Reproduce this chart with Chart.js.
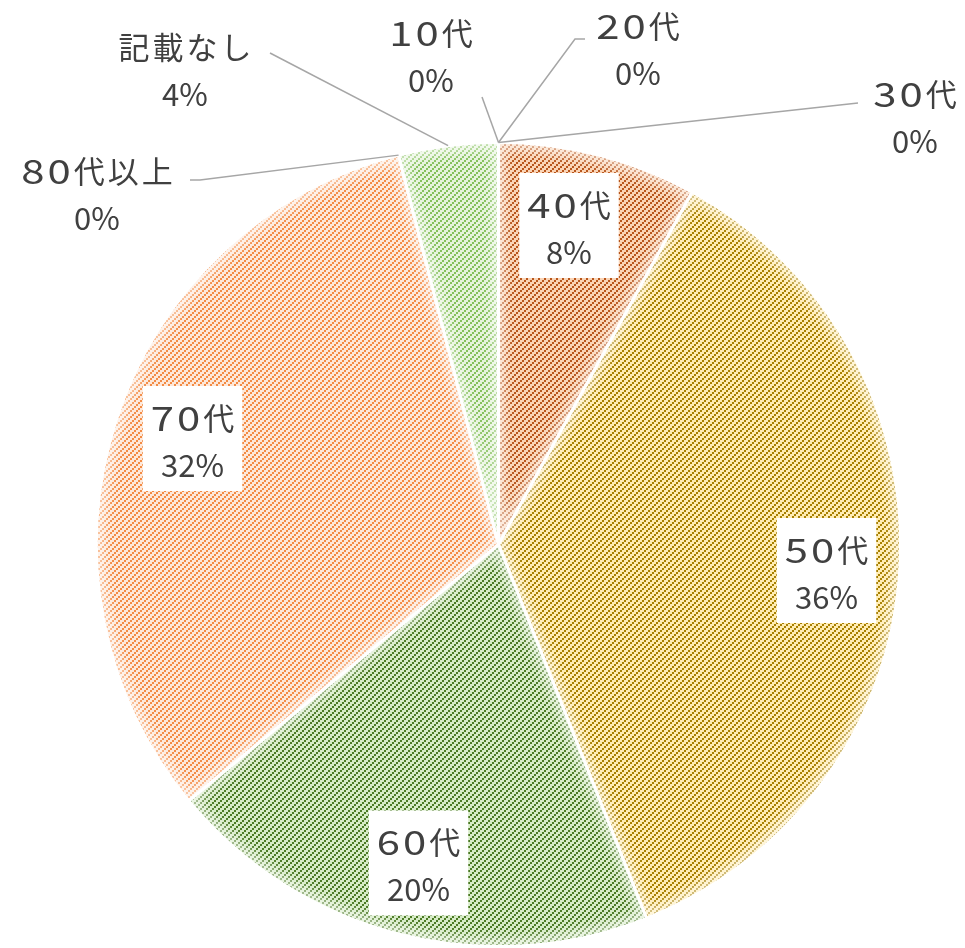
<!DOCTYPE html>
<html><head><meta charset="utf-8">
<script src="https://cdn.jsdelivr.net/npm/chart.js@4"></script>
<style>html,body{margin:0;padding:0;background:#fff;overflow:hidden}#wrap{width:965px;height:948px;position:relative}</style>
</head><body><div id="wrap"><canvas id="c" width="965" height="948"></canvas></div>
<script>
// ---- data ----
const categories = ['10代','20代','30代','40代','50代','60代','70代','80代以上','記載なし'];
const counts = [0, 0, 0, 2, 9, 5, 8, 0, 1];
const fgColors = ['#7fbf55','#b8561c','#b8561c','#b8561c','#a88000','#4b7a24','#f38b44','#f38b44','#84c05a'];
const bgColors = ['#e5f3db','#fad4b6','#fad4b6','#fad4b6','#ffecb3','#d6ebc6','#fde8da','#fde8da','#e5f3db'];

// ---- label placement (layout only) ----
const labelLayout = [
  {x:431, y:56.5, leader:[[482,97]]},
  {x:638, y:50,   leader:[[585,39],[575,39]]},
  {x:915, y:117.5,leader:[[858,103]]},
  {x:569, y:228.5, box:true},
  {x:826.5, y:573.5, box:true},
  {x:418.5, y:866,   box:true},
  {x:192.5, y:441.5, box:true},
  {x:97,  y:195,  leader:[[190,180],[200,180]]},
  {x:185, y:71,   leader:[[270,53]]}
];

const total = counts.reduce((a,b)=>a+b,0);
const percentLabels = counts.map(v => Math.round(v/total*100) + '%');

const canvas = document.getElementById('c');
const ctx = canvas.getContext('2d');

function makePattern(fg, bg){
  const c = document.createElement('canvas');
  c.width = 6; c.height = 6;
  const x = c.getContext('2d');
  x.fillStyle = bg; x.fillRect(0,0,6,6);
  x.fillStyle = fg;
  for (let i=0;i<6;i++) for (let j=0;j<6;j++){
    if ((Math.floor(i/2)+Math.floor(j/2))%3===0) x.fillRect(i,j,1,1);
  }
  return ctx.createPattern(c,'repeat');
}
const patterns = fgColors.map((f,i)=>makePattern(f,bgColors[i]));

const FONT = '"Noto Sans CJK JP", "Noto Sans", sans-serif';
const DIGIT_SX = 1.35, DIGIT_SY = 1.1, SPACING = 3;

function measureCat(c, text){
  let w = 0;
  const chars = [...text];
  chars.forEach((ch,k)=>{
    const m = c.measureText(ch).width;
    w += /[0-9]/.test(ch) ? m*DIGIT_SX : m;
    if (k < chars.length-1) w += SPACING;
  });
  return w;
}
function drawCat(c, text, cx, cy){
  const chars = [...text];
  let x = cx - measureCat(c, text)/2;
  c.textAlign = 'left';
  chars.forEach(ch=>{
    const m = c.measureText(ch).width;
    if (/[0-9]/.test(ch)){
      c.save();
      c.translate(x, cy);
      c.scale(DIGIT_SX, DIGIT_SY);
      c.fillText(ch, 0, 0);
      c.restore();
      x += m*DIGIT_SX;
    } else {
      c.fillText(ch, x, cy);
      x += m;
    }
    x += SPACING;
  });
}

const glowPlugin = {
  id:'glow',
  afterDatasetsDraw(chart){
    const c = chart.ctx;
    const meta = chart.getDatasetMeta(0);
    meta.data.forEach(arc=>{
      const p = arc.getProps(['x','y','startAngle','endAngle','outerRadius','circumference']);
      if (!p.circumference) return;
      c.save();
      c.beginPath();
      c.moveTo(p.x,p.y);
      c.arc(p.x,p.y,p.outerRadius-1.5,p.startAngle,p.endAngle);
      c.closePath();
      c.clip();
      c.filter = 'blur(5px)';
      c.strokeStyle = 'rgba(255,255,255,0.55)';
      c.lineWidth = 14;
      c.stroke();
      c.restore();
    });
  }
};

const labelPlugin = {
  id:'labels',
  afterDraw(chart){
    const c = chart.ctx;
    const meta = chart.getDatasetMeta(0);
    c.save();
    c.textBaseline = 'middle';
    meta.data.forEach((arc,i)=>{
      const L = labelLayout[i];
      const p = arc.getProps(['x','y','startAngle','endAngle','outerRadius']);
      const mid = (p.startAngle+p.endAngle)/2;
      if (L.leader){
        const ex = p.x + Math.cos(mid)*p.outerRadius;
        const ey = p.y + Math.sin(mid)*p.outerRadius;
        c.beginPath();
        c.strokeStyle = '#a6a6a6';
        c.lineWidth = 1.5;
        c.moveTo(L.leader[0][0], L.leader[0][1]);
        for (let k=1;k<L.leader.length;k++) c.lineTo(L.leader[k][0], L.leader[k][1]);
        c.lineTo(ex, ey);
        c.stroke();
      }
      c.font = '31px ' + FONT;
      const w1 = measureCat(c, categories[i]);
      c.font = '31px ' + FONT;
      const w2 = c.measureText(percentLabels[i]).width;
      if (L.box){
        const w = Math.max(w1, w2) + 16;
        c.fillStyle = '#ffffff';
        c.fillRect(L.x - w/2, L.y - 3 - 52.5, w, 105);
      }
      c.fillStyle = '#404040';
      c.font = '31px ' + FONT;
      drawCat(c, categories[i], L.x, L.y - 23.5);
      c.font = '31px ' + FONT;
      c.textAlign = 'center';
      c.fillText(percentLabels[i], L.x, L.y + 23.5);
    });
    c.restore();
  }
};

new Chart(canvas, {
  type:'pie',
  data:{
    labels: categories,
    datasets:[{
      data: counts,
      backgroundColor: patterns,
      borderColor:'#ffffff',
      borderWidth:3,
      hoverOffset:0
    }]
  },
  options:{
    responsive:false,
    animation:false,
    layout:{padding:{left:95,right:63,top:141,bottom:0}},
    plugins:{legend:{display:false}, tooltip:{enabled:false}},
    events:[]
  },
  plugins:[glowPlugin, labelPlugin]
});
</script>
</body></html>
